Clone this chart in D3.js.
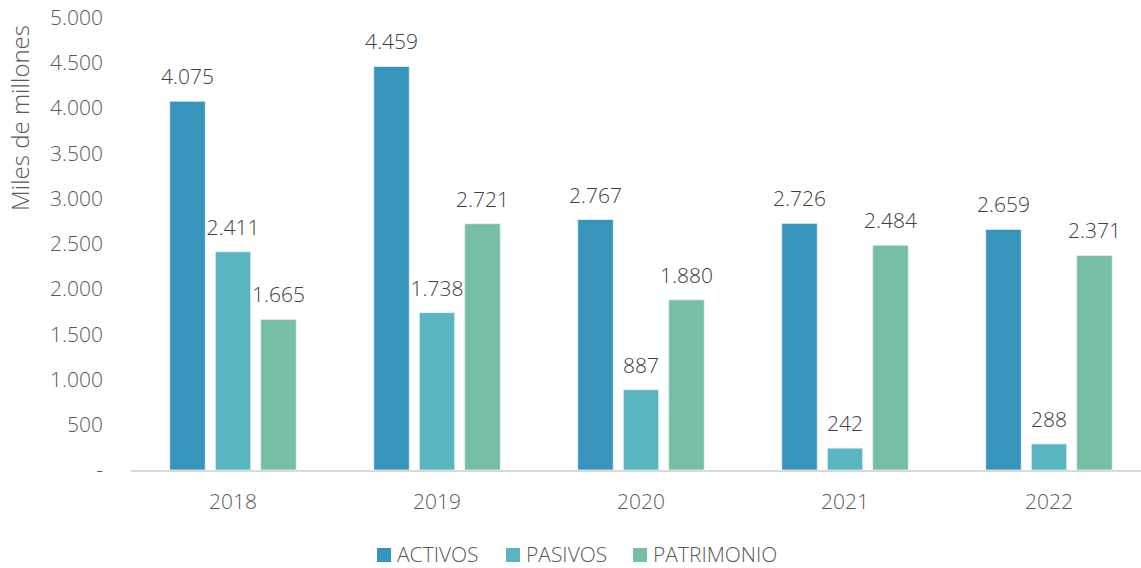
<!DOCTYPE html>
<html>
<head>
<meta charset="utf-8">
<script src="https://cdn.jsdelivr.net/npm/d3@7"></script>
<style>
  body { margin: 0; background: #fff; }
  svg { font-family: "Open Sans", "Noto Sans", sans-serif; font-weight: 300; }
</style>
</head>
<body>
<div id="viz-container"></div>
<script>
const years = ["2018", "2019", "2020", "2021", "2022"];
const seriesNames = ["ACTIVOS", "PASIVOS", "PATRIMONIO"];
const activos = [4075, 4459, 2767, 2726, 2659];
const pasivos = [2411, 1738, 887, 242, 288];
const patrimonio = [1665, 2721, 1880, 2484, 2371];
const yTicks = [0, 500, 1000, 1500, 2000, 2500, 3000, 3500, 4000, 4500, 5000];
const colors = ["#3795bb", "#59b6c0", "#76bea5"];

const width = 1141, height = 568;
const series = [activos, pasivos, patrimonio];

const svg = d3.select("#viz-container").append("svg")
    .attr("width", width).attr("height", height);

// formato español: miles con punto
const loc = d3.formatLocale({ decimal: ",", thousands: ".", grouping: [3], currency: ["", ""] });
const fmt = loc.format(",.0f");

const x0 = d3.scaleBand().domain(years).range([131, 1151]).paddingInner(0.38).paddingOuter(0.19);
const x1 = d3.scaleBand().domain(seriesNames).range([0, x0.bandwidth()]).paddingInner(0.22);
const y = d3.scaleLinear().domain([0, 5000]).range([470, 17.5]);

// eje Y (solo etiquetas)
svg.append("g").selectAll("text").data(yTicks).join("text")
    .attr("x", 103).attr("y", d => y(d)).attr("dy", "0.35em")
    .attr("text-anchor", "end")
    .style("font-size", "21px").style("fill", "#595959")
    .text(d => d === 0 ? "-" : fmt(d));

svg.append("text")
    .attr("transform", "translate(29,118) rotate(-90)")
    .attr("text-anchor", "middle")
    .style("font-size", "24px").style("fill", "#595959")
    .text("Miles de millones");

// barras
const groups = svg.append("g").selectAll("g").data(years).join("g")
    .attr("transform", d => `translate(${x0(d)},0)`);

groups.selectAll("rect")
    .data((d, i) => seriesNames.map((s, j) => ({ s, j, v: series[j][i] })))
    .join("rect")
    .attr("x", d => x1(d.s)).attr("width", x1.bandwidth())
    .attr("y", d => y(d.v)).attr("height", d => y(0) - y(d.v))
    .attr("fill", d => colors[d.j])
    .attr("stroke", "#e8f2f4").attr("stroke-width", 0.8);

groups.selectAll("text.lbl")
    .data((d, i) => seriesNames.map((s, j) => ({ s, j, v: series[j][i] })))
    .join("text").attr("class", "lbl")
    .attr("x", d => x1(d.s) + x1.bandwidth() / 2)
    .attr("y", d => y(d.v) - 17)
    .attr("text-anchor", "middle")
    .style("font-size", "21px").style("fill", "#404040")
    .text(d => fmt(d.v));

// linea base
svg.append("line")
    .attr("x1", 131).attr("x2", 1151).attr("y1", y(0) + 1).attr("y2", y(0) + 1)
    .attr("stroke", "#d9d9d9").attr("stroke-width", 2);

// etiquetas de años
svg.append("g").selectAll("text").data(years).join("text")
    .attr("x", d => x0(d) + x0.bandwidth() / 2).attr("y", 509)
    .attr("text-anchor", "middle")
    .style("font-size", "21px").style("fill", "#595959")
    .text(d => d);

// leyenda
const legendX = [377, 506, 633];
const legend = svg.append("g").selectAll("g").data(seriesNames).join("g")
    .attr("transform", (d, i) => `translate(${legendX[i]},555)`);
legend.append("rect").attr("x", 0).attr("y", -7).attr("width", 14).attr("height", 14)
    .attr("fill", (d, i) => colors[i]);
legend.append("text").attr("x", 20).attr("dy", "0.35em")
    .style("font-size", "21px").style("fill", "#595959")
    .text(d => d);
</script>
</body>
</html>
